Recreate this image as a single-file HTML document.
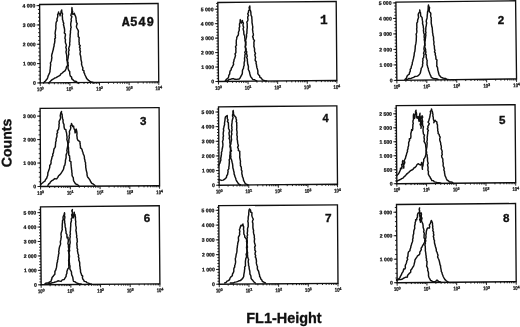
<!DOCTYPE html>
<html><head><meta charset="utf-8"><title>FL1-Height histograms</title>
<style>html,body{margin:0;padding:0;background:#fff;overflow:hidden}svg{display:block}</style></head>
<body>
<svg width="520" height="327" viewBox="0 0 520 327">
<rect width="520" height="327" fill="#fff"/>
<g transform="translate(39.6,4.5) rotate(-0.48)">
<rect x="0" y="0" width="118.5" height="78.4" fill="none" stroke="#101010" stroke-width="1.35"/>
<path d="M-3.1,1.10H0M-3.1,20.43H0M-3.1,39.75H0M-3.1,59.08H0M-3.1,78.40H0M-1.7,78.40H0M-1.7,74.54H0M-1.7,70.67H0M-1.7,66.81H0M-1.7,62.94H0M-1.7,59.08H0M-1.7,55.21H0M-1.7,51.35H0M-1.7,47.48H0M-1.7,43.62H0M-1.7,39.75H0M-1.7,35.89H0M-1.7,32.02H0M-1.7,28.16H0M-1.7,24.29H0M-1.7,20.42H0M-1.7,16.56H0M-1.7,12.69H0M-1.7,8.83H0M-1.7,4.96H0M-1.7,1.10H0M0.00,78.4v3.0M8.92,78.4v1.5M14.13,78.4v1.5M17.84,78.4v1.5M20.71,78.4v1.5M23.05,78.4v1.5M25.04,78.4v1.5M26.75,78.4v1.5M28.27,78.4v1.5M29.62,78.4v3.0M38.54,78.4v1.5M43.76,78.4v1.5M47.46,78.4v1.5M50.33,78.4v1.5M52.68,78.4v1.5M54.66,78.4v1.5M56.38,78.4v1.5M57.89,78.4v1.5M59.25,78.4v3.0M68.17,78.4v1.5M73.38,78.4v1.5M77.09,78.4v1.5M79.96,78.4v1.5M82.30,78.4v1.5M84.29,78.4v1.5M86.00,78.4v1.5M87.52,78.4v1.5M88.88,78.4v3.0M97.79,78.4v1.5M103.01,78.4v1.5M106.71,78.4v1.5M109.58,78.4v1.5M111.93,78.4v1.5M113.91,78.4v1.5M115.63,78.4v1.5M117.14,78.4v1.5M118.5,78.4v3.0" fill="none" stroke="#101010" stroke-width="0.9"/>
<g font-family='"Liberation Sans", sans-serif' font-size="5.1" font-weight="bold" fill="#101010" stroke="#101010" stroke-width="0.24">
<text x="-4.4" y="3.0" text-anchor="end">4 000</text>
<text x="-4.4" y="22.3" text-anchor="end">3 000</text>
<text x="-4.4" y="41.6" text-anchor="end">2 000</text>
<text x="-4.4" y="60.9" text-anchor="end">1 000</text>
<text x="-4.4" y="80.2" text-anchor="end">0</text>
<text x="-3.3" y="86.8" font-size="5.5" textLength="4.7" lengthAdjust="spacingAndGlyphs">10</text><text x="1.2" y="85.1" font-size="3.9">0</text>
<text x="26.3" y="86.8" font-size="5.5" textLength="4.7" lengthAdjust="spacingAndGlyphs">10</text><text x="30.8" y="85.1" font-size="3.9">1</text>
<text x="56.0" y="86.8" font-size="5.5" textLength="4.7" lengthAdjust="spacingAndGlyphs">10</text><text x="60.5" y="85.1" font-size="3.9">2</text>
<text x="85.6" y="86.8" font-size="5.5" textLength="4.7" lengthAdjust="spacingAndGlyphs">10</text><text x="90.1" y="85.1" font-size="3.9">3</text>
<text x="115.2" y="86.8" font-size="5.5" textLength="4.7" lengthAdjust="spacingAndGlyphs">10</text><text x="119.7" y="85.1" font-size="3.9">4</text>
</g>
</g>
<g transform="translate(217.8,2.5) rotate(-0.48)">
<rect x="0" y="0" width="118.4" height="79.0" fill="none" stroke="#101010" stroke-width="1.35"/>
<path d="M-3.1,6.70H0M-3.1,21.16H0M-3.1,35.62H0M-3.1,50.08H0M-3.1,64.54H0M-3.1,79.00H0M-1.7,79.00H0M-1.7,76.11H0M-1.7,73.22H0M-1.7,70.32H0M-1.7,67.43H0M-1.7,64.54H0M-1.7,61.65H0M-1.7,58.76H0M-1.7,55.86H0M-1.7,52.97H0M-1.7,50.08H0M-1.7,47.19H0M-1.7,44.30H0M-1.7,41.40H0M-1.7,38.51H0M-1.7,35.62H0M-1.7,32.73H0M-1.7,29.84H0M-1.7,26.94H0M-1.7,24.05H0M-1.7,21.16H0M-1.7,18.27H0M-1.7,15.38H0M-1.7,12.48H0M-1.7,9.59H0M-1.7,6.70H0M-1.7,3.81H0M-1.7,0.92H0M0.00,79.0v3.0M8.91,79.0v1.5M14.12,79.0v1.5M17.82,79.0v1.5M20.69,79.0v1.5M23.03,79.0v1.5M25.01,79.0v1.5M26.73,79.0v1.5M28.25,79.0v1.5M29.60,79.0v3.0M38.51,79.0v1.5M43.72,79.0v1.5M47.42,79.0v1.5M50.29,79.0v1.5M52.63,79.0v1.5M54.61,79.0v1.5M56.33,79.0v1.5M57.85,79.0v1.5M59.20,79.0v3.0M68.11,79.0v1.5M73.32,79.0v1.5M77.02,79.0v1.5M79.89,79.0v1.5M82.23,79.0v1.5M84.21,79.0v1.5M85.93,79.0v1.5M87.45,79.0v1.5M88.80,79.0v3.0M97.71,79.0v1.5M102.92,79.0v1.5M106.62,79.0v1.5M109.49,79.0v1.5M111.83,79.0v1.5M113.81,79.0v1.5M115.53,79.0v1.5M117.05,79.0v1.5M118.4,79.0v3.0" fill="none" stroke="#101010" stroke-width="0.9"/>
<g font-family='"Liberation Sans", sans-serif' font-size="5.1" font-weight="bold" fill="#101010" stroke="#101010" stroke-width="0.24">
<text x="-4.4" y="8.6" text-anchor="end">5 000</text>
<text x="-4.4" y="23.0" text-anchor="end">4 000</text>
<text x="-4.4" y="37.5" text-anchor="end">3 000</text>
<text x="-4.4" y="51.9" text-anchor="end">2 000</text>
<text x="-4.4" y="66.4" text-anchor="end">1 000</text>
<text x="-4.4" y="80.8" text-anchor="end">0</text>
<text x="-3.3" y="87.4" font-size="5.5" textLength="4.7" lengthAdjust="spacingAndGlyphs">10</text><text x="1.2" y="85.7" font-size="3.9">0</text>
<text x="26.3" y="87.4" font-size="5.5" textLength="4.7" lengthAdjust="spacingAndGlyphs">10</text><text x="30.8" y="85.7" font-size="3.9">1</text>
<text x="55.9" y="87.4" font-size="5.5" textLength="4.7" lengthAdjust="spacingAndGlyphs">10</text><text x="60.4" y="85.7" font-size="3.9">2</text>
<text x="85.5" y="87.4" font-size="5.5" textLength="4.7" lengthAdjust="spacingAndGlyphs">10</text><text x="90.0" y="85.7" font-size="3.9">3</text>
<text x="115.1" y="87.4" font-size="5.5" textLength="4.7" lengthAdjust="spacingAndGlyphs">10</text><text x="119.6" y="85.7" font-size="3.9">4</text>
</g>
</g>
<g transform="translate(395.9,2.2) rotate(-0.7)">
<rect x="0" y="0" width="119.7" height="78.2" fill="none" stroke="#101010" stroke-width="1.35"/>
<path d="M-3.1,0.70H0M-3.1,16.20H0M-3.1,31.70H0M-3.1,47.20H0M-3.1,62.70H0M-3.1,78.20H0M-1.7,78.20H0M-1.7,75.10H0M-1.7,72.00H0M-1.7,68.90H0M-1.7,65.80H0M-1.7,62.70H0M-1.7,59.60H0M-1.7,56.50H0M-1.7,53.40H0M-1.7,50.30H0M-1.7,47.20H0M-1.7,44.10H0M-1.7,41.00H0M-1.7,37.90H0M-1.7,34.80H0M-1.7,31.70H0M-1.7,28.60H0M-1.7,25.50H0M-1.7,22.40H0M-1.7,19.30H0M-1.7,16.20H0M-1.7,13.10H0M-1.7,10.00H0M-1.7,6.90H0M-1.7,3.80H0M-1.7,0.70H0M0.00,78.2v3.0M9.01,78.2v1.5M14.28,78.2v1.5M18.02,78.2v1.5M20.92,78.2v1.5M23.29,78.2v1.5M25.29,78.2v1.5M27.02,78.2v1.5M28.56,78.2v1.5M29.93,78.2v3.0M38.93,78.2v1.5M44.20,78.2v1.5M47.94,78.2v1.5M50.84,78.2v1.5M53.21,78.2v1.5M55.21,78.2v1.5M56.95,78.2v1.5M58.48,78.2v1.5M59.85,78.2v3.0M68.86,78.2v1.5M74.13,78.2v1.5M77.87,78.2v1.5M80.77,78.2v1.5M83.14,78.2v1.5M85.14,78.2v1.5M86.87,78.2v1.5M88.41,78.2v1.5M89.78,78.2v3.0M98.78,78.2v1.5M104.05,78.2v1.5M107.79,78.2v1.5M110.69,78.2v1.5M113.06,78.2v1.5M115.06,78.2v1.5M116.80,78.2v1.5M118.33,78.2v1.5M119.7,78.2v3.0" fill="none" stroke="#101010" stroke-width="0.9"/>
<g font-family='"Liberation Sans", sans-serif' font-size="5.1" font-weight="bold" fill="#101010" stroke="#101010" stroke-width="0.24">
<text x="-4.4" y="2.5" text-anchor="end">5 000</text>
<text x="-4.4" y="18.1" text-anchor="end">4 000</text>
<text x="-4.4" y="33.5" text-anchor="end">3 000</text>
<text x="-4.4" y="49.1" text-anchor="end">2 000</text>
<text x="-4.4" y="64.5" text-anchor="end">1 000</text>
<text x="-4.4" y="80.0" text-anchor="end">0</text>
<text x="-3.3" y="86.6" font-size="5.5" textLength="4.7" lengthAdjust="spacingAndGlyphs">10</text><text x="1.2" y="84.9" font-size="3.9">0</text>
<text x="26.6" y="86.6" font-size="5.5" textLength="4.7" lengthAdjust="spacingAndGlyphs">10</text><text x="31.1" y="84.9" font-size="3.9">1</text>
<text x="56.6" y="86.6" font-size="5.5" textLength="4.7" lengthAdjust="spacingAndGlyphs">10</text><text x="61.1" y="84.9" font-size="3.9">2</text>
<text x="86.5" y="86.6" font-size="5.5" textLength="4.7" lengthAdjust="spacingAndGlyphs">10</text><text x="91.0" y="84.9" font-size="3.9">3</text>
<text x="116.4" y="86.6" font-size="5.5" textLength="4.7" lengthAdjust="spacingAndGlyphs">10</text><text x="120.9" y="84.9" font-size="3.9">4</text>
</g>
</g>
<g transform="translate(40.1,108.3) rotate(-0.35)">
<rect x="0" y="0" width="119.0" height="78.2" fill="none" stroke="#101010" stroke-width="1.35"/>
<path d="M-3.1,7.80H0M-3.1,31.27H0M-3.1,54.73H0M-3.1,78.20H0M-1.7,78.20H0M-1.7,73.51H0M-1.7,68.81H0M-1.7,64.12H0M-1.7,59.43H0M-1.7,54.73H0M-1.7,50.04H0M-1.7,45.35H0M-1.7,40.65H0M-1.7,35.96H0M-1.7,31.27H0M-1.7,26.57H0M-1.7,21.88H0M-1.7,17.19H0M-1.7,12.49H0M-1.7,7.80H0M-1.7,3.11H0M0.00,78.2v3.0M8.96,78.2v1.5M14.19,78.2v1.5M17.91,78.2v1.5M20.79,78.2v1.5M23.15,78.2v1.5M25.14,78.2v1.5M26.87,78.2v1.5M28.39,78.2v1.5M29.75,78.2v3.0M38.71,78.2v1.5M43.94,78.2v1.5M47.66,78.2v1.5M50.54,78.2v1.5M52.90,78.2v1.5M54.89,78.2v1.5M56.62,78.2v1.5M58.14,78.2v1.5M59.50,78.2v3.0M68.46,78.2v1.5M73.69,78.2v1.5M77.41,78.2v1.5M80.29,78.2v1.5M82.65,78.2v1.5M84.64,78.2v1.5M86.37,78.2v1.5M87.89,78.2v1.5M89.25,78.2v3.0M98.21,78.2v1.5M103.44,78.2v1.5M107.16,78.2v1.5M110.04,78.2v1.5M112.40,78.2v1.5M114.39,78.2v1.5M116.12,78.2v1.5M117.64,78.2v1.5M119.0,78.2v3.0" fill="none" stroke="#101010" stroke-width="0.9"/>
<g font-family='"Liberation Sans", sans-serif' font-size="5.1" font-weight="bold" fill="#101010" stroke="#101010" stroke-width="0.24">
<text x="-4.4" y="9.7" text-anchor="end">3 000</text>
<text x="-4.4" y="33.1" text-anchor="end">2 000</text>
<text x="-4.4" y="56.6" text-anchor="end">1 000</text>
<text x="-4.4" y="80.0" text-anchor="end">0</text>
<text x="-3.3" y="86.6" font-size="5.5" textLength="4.7" lengthAdjust="spacingAndGlyphs">10</text><text x="1.2" y="84.9" font-size="3.9">0</text>
<text x="26.4" y="86.6" font-size="5.5" textLength="4.7" lengthAdjust="spacingAndGlyphs">10</text><text x="30.9" y="84.9" font-size="3.9">1</text>
<text x="56.2" y="86.6" font-size="5.5" textLength="4.7" lengthAdjust="spacingAndGlyphs">10</text><text x="60.7" y="84.9" font-size="3.9">2</text>
<text x="86.0" y="86.6" font-size="5.5" textLength="4.7" lengthAdjust="spacingAndGlyphs">10</text><text x="90.5" y="84.9" font-size="3.9">3</text>
<text x="115.7" y="86.6" font-size="5.5" textLength="4.7" lengthAdjust="spacingAndGlyphs">10</text><text x="120.2" y="84.9" font-size="3.9">4</text>
</g>
</g>
<g transform="translate(218.5,106.8) rotate(-0.48)">
<rect x="0" y="0" width="118.35" height="78.4" fill="none" stroke="#101010" stroke-width="1.35"/>
<path d="M-3.1,5.20H0M-3.1,19.84H0M-3.1,34.48H0M-3.1,49.12H0M-3.1,63.76H0M-3.1,78.40H0M-1.7,78.40H0M-1.7,75.47H0M-1.7,72.54H0M-1.7,69.62H0M-1.7,66.69H0M-1.7,63.76H0M-1.7,60.83H0M-1.7,57.90H0M-1.7,54.98H0M-1.7,52.05H0M-1.7,49.12H0M-1.7,46.19H0M-1.7,43.26H0M-1.7,40.34H0M-1.7,37.41H0M-1.7,34.48H0M-1.7,31.55H0M-1.7,28.62H0M-1.7,25.70H0M-1.7,22.77H0M-1.7,19.84H0M-1.7,16.91H0M-1.7,13.98H0M-1.7,11.06H0M-1.7,8.13H0M-1.7,5.20H0M-1.7,2.27H0M0.00,78.4v3.0M8.91,78.4v1.5M14.12,78.4v1.5M17.81,78.4v1.5M20.68,78.4v1.5M23.02,78.4v1.5M25.00,78.4v1.5M26.72,78.4v1.5M28.23,78.4v1.5M29.59,78.4v3.0M38.49,78.4v1.5M43.70,78.4v1.5M47.40,78.4v1.5M50.27,78.4v1.5M52.61,78.4v1.5M54.59,78.4v1.5M56.31,78.4v1.5M57.82,78.4v1.5M59.17,78.4v3.0M68.08,78.4v1.5M73.29,78.4v1.5M76.99,78.4v1.5M79.86,78.4v1.5M82.20,78.4v1.5M84.18,78.4v1.5M85.90,78.4v1.5M87.41,78.4v1.5M88.76,78.4v3.0M97.67,78.4v1.5M102.88,78.4v1.5M106.58,78.4v1.5M109.44,78.4v1.5M111.79,78.4v1.5M113.77,78.4v1.5M115.48,78.4v1.5M117.00,78.4v1.5M118.35,78.4v3.0" fill="none" stroke="#101010" stroke-width="0.9"/>
<g font-family='"Liberation Sans", sans-serif' font-size="5.1" font-weight="bold" fill="#101010" stroke="#101010" stroke-width="0.24">
<text x="-4.4" y="7.1" text-anchor="end">5 000</text>
<text x="-4.4" y="21.7" text-anchor="end">4 000</text>
<text x="-4.4" y="36.3" text-anchor="end">3 000</text>
<text x="-4.4" y="51.0" text-anchor="end">2 000</text>
<text x="-4.4" y="65.6" text-anchor="end">1 000</text>
<text x="-4.4" y="80.2" text-anchor="end">0</text>
<text x="-3.3" y="86.8" font-size="5.5" textLength="4.7" lengthAdjust="spacingAndGlyphs">10</text><text x="1.2" y="85.1" font-size="3.9">0</text>
<text x="26.3" y="86.8" font-size="5.5" textLength="4.7" lengthAdjust="spacingAndGlyphs">10</text><text x="30.8" y="85.1" font-size="3.9">1</text>
<text x="55.9" y="86.8" font-size="5.5" textLength="4.7" lengthAdjust="spacingAndGlyphs">10</text><text x="60.4" y="85.1" font-size="3.9">2</text>
<text x="85.5" y="86.8" font-size="5.5" textLength="4.7" lengthAdjust="spacingAndGlyphs">10</text><text x="90.0" y="85.1" font-size="3.9">3</text>
<text x="115.0" y="86.8" font-size="5.5" textLength="4.7" lengthAdjust="spacingAndGlyphs">10</text><text x="119.5" y="85.1" font-size="3.9">4</text>
</g>
</g>
<g transform="translate(396.2,105.7) rotate(-0.48)">
<rect x="0" y="0" width="118.85" height="78.0" fill="none" stroke="#101010" stroke-width="1.35"/>
<path d="M-3.1,8.10H0M-3.1,22.08H0M-3.1,36.06H0M-3.1,50.04H0M-3.1,64.02H0M-3.1,78.00H0M-1.7,78.00H0M-1.7,75.20H0M-1.7,72.41H0M-1.7,69.61H0M-1.7,66.82H0M-1.7,64.02H0M-1.7,61.22H0M-1.7,58.43H0M-1.7,55.63H0M-1.7,52.84H0M-1.7,50.04H0M-1.7,47.24H0M-1.7,44.45H0M-1.7,41.65H0M-1.7,38.86H0M-1.7,36.06H0M-1.7,33.26H0M-1.7,30.47H0M-1.7,27.67H0M-1.7,24.88H0M-1.7,22.08H0M-1.7,19.28H0M-1.7,16.49H0M-1.7,13.69H0M-1.7,10.90H0M-1.7,8.10H0M-1.7,5.30H0M-1.7,2.51H0M0.00,78.0v3.0M8.94,78.0v1.5M14.18,78.0v1.5M17.89,78.0v1.5M20.77,78.0v1.5M23.12,78.0v1.5M25.11,78.0v1.5M26.83,78.0v1.5M28.35,78.0v1.5M29.71,78.0v3.0M38.66,78.0v1.5M43.89,78.0v1.5M47.60,78.0v1.5M50.48,78.0v1.5M52.83,78.0v1.5M54.82,78.0v1.5M56.55,78.0v1.5M58.07,78.0v1.5M59.42,78.0v3.0M68.37,78.0v1.5M73.60,78.0v1.5M77.31,78.0v1.5M80.19,78.0v1.5M82.55,78.0v1.5M84.53,78.0v1.5M86.26,78.0v1.5M87.78,78.0v1.5M89.14,78.0v3.0M98.08,78.0v1.5M103.31,78.0v1.5M107.03,78.0v1.5M109.91,78.0v1.5M112.26,78.0v1.5M114.25,78.0v1.5M115.97,78.0v1.5M117.49,78.0v1.5M118.85,78.0v3.0" fill="none" stroke="#101010" stroke-width="0.9"/>
<g font-family='"Liberation Sans", sans-serif' font-size="5.1" font-weight="bold" fill="#101010" stroke="#101010" stroke-width="0.24">
<text x="-4.4" y="9.9" text-anchor="end">2 500</text>
<text x="-4.4" y="23.9" text-anchor="end">2 000</text>
<text x="-4.4" y="37.9" text-anchor="end">1 500</text>
<text x="-4.4" y="51.9" text-anchor="end">1 000</text>
<text x="-4.4" y="65.9" text-anchor="end">500</text>
<text x="-4.4" y="79.8" text-anchor="end">0</text>
<text x="-3.3" y="86.4" font-size="5.5" textLength="4.7" lengthAdjust="spacingAndGlyphs">10</text><text x="1.2" y="84.7" font-size="3.9">0</text>
<text x="26.4" y="86.4" font-size="5.5" textLength="4.7" lengthAdjust="spacingAndGlyphs">10</text><text x="30.9" y="84.7" font-size="3.9">1</text>
<text x="56.1" y="86.4" font-size="5.5" textLength="4.7" lengthAdjust="spacingAndGlyphs">10</text><text x="60.6" y="84.7" font-size="3.9">2</text>
<text x="85.8" y="86.4" font-size="5.5" textLength="4.7" lengthAdjust="spacingAndGlyphs">10</text><text x="90.3" y="84.7" font-size="3.9">3</text>
<text x="115.5" y="86.4" font-size="5.5" textLength="4.7" lengthAdjust="spacingAndGlyphs">10</text><text x="120.0" y="84.7" font-size="3.9">4</text>
</g>
</g>
<g transform="translate(40.5,206.8) rotate(-0.48)">
<rect x="0" y="0" width="118.75" height="78.0" fill="none" stroke="#101010" stroke-width="1.35"/>
<path d="M-3.1,5.80H0M-3.1,20.24H0M-3.1,34.68H0M-3.1,49.12H0M-3.1,63.56H0M-3.1,78.00H0M-1.7,78.00H0M-1.7,75.11H0M-1.7,72.22H0M-1.7,69.34H0M-1.7,66.45H0M-1.7,63.56H0M-1.7,60.67H0M-1.7,57.78H0M-1.7,54.90H0M-1.7,52.01H0M-1.7,49.12H0M-1.7,46.23H0M-1.7,43.34H0M-1.7,40.46H0M-1.7,37.57H0M-1.7,34.68H0M-1.7,31.79H0M-1.7,28.90H0M-1.7,26.02H0M-1.7,23.13H0M-1.7,20.24H0M-1.7,17.35H0M-1.7,14.46H0M-1.7,11.58H0M-1.7,8.69H0M-1.7,5.80H0M-1.7,2.91H0M0.00,78.0v3.0M8.94,78.0v1.5M14.16,78.0v1.5M17.87,78.0v1.5M20.75,78.0v1.5M23.10,78.0v1.5M25.09,78.0v1.5M26.81,78.0v1.5M28.33,78.0v1.5M29.69,78.0v3.0M38.62,78.0v1.5M43.85,78.0v1.5M47.56,78.0v1.5M50.44,78.0v1.5M52.79,78.0v1.5M54.78,78.0v1.5M56.50,78.0v1.5M58.02,78.0v1.5M59.38,78.0v3.0M68.31,78.0v1.5M73.54,78.0v1.5M77.25,78.0v1.5M80.13,78.0v1.5M82.48,78.0v1.5M84.46,78.0v1.5M86.19,78.0v1.5M87.70,78.0v1.5M89.06,78.0v3.0M98.00,78.0v1.5M103.23,78.0v1.5M106.94,78.0v1.5M109.81,78.0v1.5M112.16,78.0v1.5M114.15,78.0v1.5M115.87,78.0v1.5M117.39,78.0v1.5M118.75,78.0v3.0" fill="none" stroke="#101010" stroke-width="0.9"/>
<g font-family='"Liberation Sans", sans-serif' font-size="5.1" font-weight="bold" fill="#101010" stroke="#101010" stroke-width="0.24">
<text x="-4.4" y="7.7" text-anchor="end">5 000</text>
<text x="-4.4" y="22.1" text-anchor="end">4 000</text>
<text x="-4.4" y="36.5" text-anchor="end">3 000</text>
<text x="-4.4" y="51.0" text-anchor="end">2 000</text>
<text x="-4.4" y="65.4" text-anchor="end">1 000</text>
<text x="-4.4" y="79.8" text-anchor="end">0</text>
<text x="-3.3" y="86.4" font-size="5.5" textLength="4.7" lengthAdjust="spacingAndGlyphs">10</text><text x="1.2" y="84.7" font-size="3.9">0</text>
<text x="26.4" y="86.4" font-size="5.5" textLength="4.7" lengthAdjust="spacingAndGlyphs">10</text><text x="30.9" y="84.7" font-size="3.9">1</text>
<text x="56.1" y="86.4" font-size="5.5" textLength="4.7" lengthAdjust="spacingAndGlyphs">10</text><text x="60.6" y="84.7" font-size="3.9">2</text>
<text x="85.8" y="86.4" font-size="5.5" textLength="4.7" lengthAdjust="spacingAndGlyphs">10</text><text x="90.3" y="84.7" font-size="3.9">3</text>
<text x="115.5" y="86.4" font-size="5.5" textLength="4.7" lengthAdjust="spacingAndGlyphs">10</text><text x="120.0" y="84.7" font-size="3.9">4</text>
</g>
</g>
<g transform="translate(218.7,205.7) rotate(-0.4)">
<rect x="0" y="0" width="118.75" height="78.5" fill="none" stroke="#101010" stroke-width="1.35"/>
<path d="M-3.1,4.60H0M-3.1,19.38H0M-3.1,34.16H0M-3.1,48.94H0M-3.1,63.72H0M-3.1,78.50H0M-1.7,78.50H0M-1.7,75.54H0M-1.7,72.59H0M-1.7,69.63H0M-1.7,66.68H0M-1.7,63.72H0M-1.7,60.76H0M-1.7,57.81H0M-1.7,54.85H0M-1.7,51.90H0M-1.7,48.94H0M-1.7,45.98H0M-1.7,43.03H0M-1.7,40.07H0M-1.7,37.12H0M-1.7,34.16H0M-1.7,31.20H0M-1.7,28.25H0M-1.7,25.29H0M-1.7,22.34H0M-1.7,19.38H0M-1.7,16.42H0M-1.7,13.47H0M-1.7,10.51H0M-1.7,7.56H0M-1.7,4.60H0M-1.7,1.64H0M0.00,78.5v3.0M8.94,78.5v1.5M14.16,78.5v1.5M17.87,78.5v1.5M20.75,78.5v1.5M23.10,78.5v1.5M25.09,78.5v1.5M26.81,78.5v1.5M28.33,78.5v1.5M29.69,78.5v3.0M38.62,78.5v1.5M43.85,78.5v1.5M47.56,78.5v1.5M50.44,78.5v1.5M52.79,78.5v1.5M54.78,78.5v1.5M56.50,78.5v1.5M58.02,78.5v1.5M59.38,78.5v3.0M68.31,78.5v1.5M73.54,78.5v1.5M77.25,78.5v1.5M80.13,78.5v1.5M82.48,78.5v1.5M84.46,78.5v1.5M86.19,78.5v1.5M87.70,78.5v1.5M89.06,78.5v3.0M98.00,78.5v1.5M103.23,78.5v1.5M106.94,78.5v1.5M109.81,78.5v1.5M112.16,78.5v1.5M114.15,78.5v1.5M115.87,78.5v1.5M117.39,78.5v1.5M118.75,78.5v3.0" fill="none" stroke="#101010" stroke-width="0.9"/>
<g font-family='"Liberation Sans", sans-serif' font-size="5.1" font-weight="bold" fill="#101010" stroke="#101010" stroke-width="0.24">
<text x="-4.4" y="6.4" text-anchor="end">5 000</text>
<text x="-4.4" y="21.2" text-anchor="end">4 000</text>
<text x="-4.4" y="36.0" text-anchor="end">3 000</text>
<text x="-4.4" y="50.8" text-anchor="end">2 000</text>
<text x="-4.4" y="65.6" text-anchor="end">1 000</text>
<text x="-4.4" y="80.3" text-anchor="end">0</text>
<text x="-3.3" y="86.9" font-size="5.5" textLength="4.7" lengthAdjust="spacingAndGlyphs">10</text><text x="1.2" y="85.2" font-size="3.9">0</text>
<text x="26.4" y="86.9" font-size="5.5" textLength="4.7" lengthAdjust="spacingAndGlyphs">10</text><text x="30.9" y="85.2" font-size="3.9">1</text>
<text x="56.1" y="86.9" font-size="5.5" textLength="4.7" lengthAdjust="spacingAndGlyphs">10</text><text x="60.6" y="85.2" font-size="3.9">2</text>
<text x="85.8" y="86.9" font-size="5.5" textLength="4.7" lengthAdjust="spacingAndGlyphs">10</text><text x="90.3" y="85.2" font-size="3.9">3</text>
<text x="115.5" y="86.9" font-size="5.5" textLength="4.7" lengthAdjust="spacingAndGlyphs">10</text><text x="120.0" y="85.2" font-size="3.9">4</text>
</g>
</g>
<g transform="translate(396.5,204.5) rotate(-0.48)">
<rect x="0" y="0" width="119.05" height="78.2" fill="none" stroke="#101010" stroke-width="1.35"/>
<path d="M-3.1,7.70H0M-3.1,31.20H0M-3.1,54.70H0M-3.1,78.20H0M-1.7,78.20H0M-1.7,73.50H0M-1.7,68.80H0M-1.7,64.10H0M-1.7,59.40H0M-1.7,54.70H0M-1.7,50.00H0M-1.7,45.30H0M-1.7,40.60H0M-1.7,35.90H0M-1.7,31.20H0M-1.7,26.50H0M-1.7,21.80H0M-1.7,17.10H0M-1.7,12.40H0M-1.7,7.70H0M-1.7,3.00H0M0.00,78.2v3.0M8.96,78.2v1.5M14.20,78.2v1.5M17.92,78.2v1.5M20.80,78.2v1.5M23.16,78.2v1.5M25.15,78.2v1.5M26.88,78.2v1.5M28.40,78.2v1.5M29.76,78.2v3.0M38.72,78.2v1.5M43.96,78.2v1.5M47.68,78.2v1.5M50.57,78.2v1.5M52.92,78.2v1.5M54.91,78.2v1.5M56.64,78.2v1.5M58.16,78.2v1.5M59.52,78.2v3.0M68.48,78.2v1.5M73.73,78.2v1.5M77.44,78.2v1.5M80.33,78.2v1.5M82.68,78.2v1.5M84.68,78.2v1.5M86.40,78.2v1.5M87.93,78.2v1.5M89.29,78.2v3.0M98.25,78.2v1.5M103.49,78.2v1.5M107.21,78.2v1.5M110.09,78.2v1.5M112.45,78.2v1.5M114.44,78.2v1.5M116.17,78.2v1.5M117.69,78.2v1.5M119.05,78.2v3.0" fill="none" stroke="#101010" stroke-width="0.9"/>
<g font-family='"Liberation Sans", sans-serif' font-size="5.1" font-weight="bold" fill="#101010" stroke="#101010" stroke-width="0.24">
<text x="-4.4" y="9.6" text-anchor="end">3 000</text>
<text x="-4.4" y="33.0" text-anchor="end">2 000</text>
<text x="-4.4" y="56.6" text-anchor="end">1 000</text>
<text x="-4.4" y="80.0" text-anchor="end">0</text>
<text x="-3.3" y="86.6" font-size="5.5" textLength="4.7" lengthAdjust="spacingAndGlyphs">10</text><text x="1.2" y="84.9" font-size="3.9">0</text>
<text x="26.5" y="86.6" font-size="5.5" textLength="4.7" lengthAdjust="spacingAndGlyphs">10</text><text x="31.0" y="84.9" font-size="3.9">1</text>
<text x="56.2" y="86.6" font-size="5.5" textLength="4.7" lengthAdjust="spacingAndGlyphs">10</text><text x="60.7" y="84.9" font-size="3.9">2</text>
<text x="86.0" y="86.6" font-size="5.5" textLength="4.7" lengthAdjust="spacingAndGlyphs">10</text><text x="90.5" y="84.9" font-size="3.9">3</text>
<text x="115.8" y="86.6" font-size="5.5" textLength="4.7" lengthAdjust="spacingAndGlyphs">10</text><text x="120.2" y="84.9" font-size="3.9">4</text>
</g>
</g>
<g fill="none" stroke="#101010" stroke-width="1.45" stroke-linejoin="round" stroke-linecap="round">
<path d="M43.5,83.0 L44.4,81.9 L45.5,81.0 L46.3,79.8 L47.3,78.8 L47.8,77.3 L48.2,75.8 L48.9,74.4 L49.5,73.0 L50.0,71.6 L50.0,70.2 L50.3,68.8 L50.3,67.4 L50.5,66.0 L50.7,64.6 L50.4,63.1 L51.0,61.8 L51.5,60.4 L51.6,59.0 L51.9,57.6 L51.6,56.1 L51.8,54.7 L52.3,53.3 L52.6,51.9 L53.0,50.5 L53.4,49.0 L53.6,47.5 L54.1,46.0 L54.1,44.5 L54.6,43.0 L54.8,41.7 L54.9,40.4 L54.7,39.0 L55.5,37.8 L55.2,36.4 L55.5,35.1 L55.1,33.8 L55.2,32.5 L55.4,31.2 L55.6,29.9 L55.9,28.6 L55.9,27.2 L55.8,25.9 L56.0,24.6 L56.0,23.1 L56.4,21.8 L57.2,20.5 L56.9,19.0 L57.5,17.6 L57.8,16.2 L57.6,14.7 L58.3,13.4 L58.6,12.0 L58.7,13.4 L60.0,14.3 L60.0,15.8 L60.3,14.3 L60.8,12.9 L61.1,11.4 L61.7,10.0 L61.7,11.4 L62.1,12.7 L62.6,14.0 L62.2,15.4 L62.4,16.8 L62.5,18.1 L62.5,19.5 L63.0,20.8 L63.2,22.1 L63.8,23.4 L63.4,24.8 L63.9,26.1 L64.1,27.5 L64.5,28.8 L64.6,30.1 L64.6,31.5 L64.3,32.9 L65.4,34.1 L65.4,35.5 L65.1,36.9 L64.9,38.3 L65.5,39.6 L65.3,41.3 L65.5,43.0 L66.1,44.3 L66.4,45.7 L65.8,47.2 L66.2,48.5 L66.5,49.9 L66.0,51.4 L66.1,52.8 L66.5,54.1 L66.7,55.5 L66.8,56.9 L66.9,58.3 L66.8,59.8 L67.2,61.2 L67.4,62.6 L67.5,64.0 L68.3,65.3 L68.0,66.8 L68.0,68.2 L68.4,69.4 L68.8,70.6 L69.8,71.7 L69.7,73.1 L69.9,74.4 L70.3,76.0 L71.6,77.1 L71.8,78.8 L72.9,79.6 L73.7,80.7 L74.9,81.3 L76.3,81.5 L77.3,82.8 L78.7,83.0"/>
<path d="M48.5,83.0 L49.9,81.9 L51.0,80.6 L52.2,79.7 L53.6,78.9 L54.8,78.0 L56.1,77.6 L57.3,76.8 L58.6,76.2 L60.0,75.4 L60.9,73.9 L62.3,73.0 L63.3,71.9 L64.6,71.2 L65.5,70.0 L66.1,68.5 L66.5,67.0 L67.4,65.6 L67.8,64.2 L68.1,62.8 L67.7,61.4 L67.6,60.0 L68.0,58.6 L68.2,57.2 L68.3,55.8 L68.8,54.4 L68.6,53.0 L68.5,51.5 L69.2,50.2 L68.7,48.7 L69.0,47.3 L69.5,45.9 L69.8,44.5 L69.6,43.0 L69.9,41.7 L69.9,40.4 L69.9,39.1 L70.0,37.8 L70.2,36.5 L70.1,35.1 L70.3,33.8 L70.5,32.5 L70.4,31.2 L70.7,29.9 L70.7,28.6 L71.2,27.3 L70.8,26.0 L70.7,24.6 L70.8,23.3 L71.0,22.0 L71.4,20.7 L71.1,19.4 L71.4,18.1 L71.9,16.8 L70.8,15.4 L71.3,14.1 L71.7,12.8 L71.8,11.5 L71.9,10.2 L71.8,8.9 L72.0,7.6 L72.0,9.0 L72.3,10.4 L72.7,11.7 L72.2,13.2 L73.0,14.5 L74.3,13.3 L74.8,14.9 L75.6,16.4 L76.0,18.0 L76.1,19.4 L76.3,20.9 L76.4,22.3 L77.2,23.7 L76.7,25.1 L76.4,26.6 L76.8,28.0 L78.0,30.0 L78.4,31.3 L78.3,32.6 L78.1,33.9 L78.3,35.2 L78.2,36.5 L79.2,37.8 L79.0,39.1 L79.1,40.4 L79.0,41.7 L79.3,43.0 L79.1,44.4 L80.3,45.7 L79.4,47.2 L80.2,48.5 L79.8,50.0 L80.5,51.3 L80.2,52.7 L80.0,54.1 L80.5,55.5 L80.8,56.9 L80.9,58.3 L81.0,59.8 L81.4,61.2 L81.7,62.6 L81.5,64.0 L81.9,65.4 L82.4,66.8 L82.9,68.1 L82.6,69.8 L84.0,70.8 L83.9,72.3 L84.6,73.6 L85.0,75.0 L85.8,76.5 L86.4,78.0 L87.4,79.4 L88.7,80.4 L90.0,81.3 L91.2,82.0 L92.6,82.1 L93.7,83.0"/>
<path d="M225.3,81.0 L226.3,79.4 L227.8,78.4 L228.6,77.0 L228.8,75.4 L229.7,74.0 L229.8,72.5 L230.1,71.0 L231.2,69.8 L231.3,68.3 L232.2,67.2 L232.8,65.8 L233.6,64.4 L233.3,62.7 L233.9,61.3 L234.0,59.7 L234.7,58.3 L235.1,56.9 L235.5,55.5 L235.0,54.0 L235.9,52.6 L235.9,51.2 L235.8,49.7 L236.0,48.3 L235.5,46.7 L236.5,45.2 L236.2,43.6 L236.3,42.0 L236.3,40.4 L236.7,38.9 L236.8,37.4 L237.5,36.2 L238.3,35.0 L238.5,33.6 L238.4,32.2 L239.1,30.8 L239.3,29.4 L239.1,28.0 L239.7,26.7 L239.5,25.2 L239.5,23.8 L240.2,22.4 L240.1,21.0 L240.3,19.6 L240.8,21.3 L241.4,23.0 L242.3,21.8 L242.4,20.4 L242.6,21.8 L243.4,23.1 L243.0,24.6 L243.1,26.0 L243.7,27.3 L243.1,28.8 L243.4,30.1 L243.8,31.5 L243.8,32.8 L243.9,34.2 L244.7,36.0 L244.7,37.5 L245.0,39.0 L244.9,40.5 L245.4,42.0 L245.5,43.4 L245.4,44.8 L245.4,46.3 L245.5,47.7 L246.2,49.0 L245.9,50.5 L246.8,51.8 L246.4,53.3 L246.9,54.7 L247.3,56.1 L246.6,57.6 L247.4,59.0 L247.3,60.4 L247.5,61.9 L247.6,63.3 L247.9,64.8 L248.4,66.3 L248.4,67.9 L248.3,69.5 L249.1,70.9 L249.6,72.5 L249.9,74.0 L250.3,75.6 L251.0,77.1 L252.0,78.3 L252.9,79.6 L254.3,79.7 L255.5,80.4 L256.7,81.0"/>
<path d="M226.5,81.0 L227.9,80.7 L228.9,79.5 L230.3,79.4 L231.8,78.8 L233.4,78.6 L234.9,79.3 L236.6,79.4 L239.1,79.0 L240.1,77.9 L240.8,76.5 L241.6,75.2 L242.2,73.9 L242.4,72.5 L242.4,71.0 L242.7,69.6 L243.5,68.3 L243.6,66.8 L244.2,65.3 L244.1,63.8 L244.2,62.3 L244.7,60.8 L244.6,59.4 L244.5,57.9 L245.0,56.6 L244.8,55.1 L245.4,53.7 L244.7,52.3 L245.6,50.9 L245.6,49.5 L245.5,48.0 L245.2,46.5 L246.0,45.0 L245.8,43.5 L246.0,42.0 L245.5,40.4 L246.0,38.9 L246.4,37.4 L246.6,36.0 L246.4,34.6 L246.9,33.3 L246.9,31.9 L247.0,30.5 L247.0,29.1 L247.3,27.8 L247.2,26.4 L247.2,25.0 L247.2,23.6 L246.8,22.1 L247.7,20.8 L248.0,19.4 L247.7,18.0 L247.8,16.6 L248.6,15.3 L247.7,13.8 L248.5,12.4 L248.5,11.0 L249.6,9.5 L249.1,7.6 L249.8,6.0 L249.9,7.7 L249.8,9.4 L250.6,11.0 L250.9,12.5 L250.9,14.0 L251.1,15.4 L251.8,16.8 L251.8,18.3 L252.0,19.8 L252.0,21.2 L252.0,22.6 L252.3,24.0 L252.5,25.4 L252.8,26.8 L252.7,28.2 L252.5,29.6 L252.8,31.0 L252.9,32.4 L253.3,33.7 L253.4,35.1 L252.6,36.6 L253.2,37.9 L253.4,39.3 L254.5,40.6 L253.9,42.0 L253.9,43.4 L254.0,44.9 L253.8,46.3 L254.3,47.7 L254.6,49.1 L254.5,50.6 L254.8,52.0 L255.5,53.4 L254.8,54.9 L255.2,56.2 L255.6,57.6 L255.2,59.1 L255.2,60.5 L256.2,61.8 L256.0,63.3 L256.5,64.7 L256.6,66.2 L256.9,67.7 L257.4,69.1 L257.8,70.6 L257.9,72.1 L257.8,73.6 L258.6,74.7 L259.6,75.7 L259.8,77.1 L261.3,78.1 L262.3,79.6 L263.6,80.5 L265.2,80.8 L266.7,81.0"/>
<path d="M404.9,79.5 L406.2,78.4 L406.8,76.9 L407.4,75.5 L409.3,74.2 L409.5,72.6 L410.3,71.1 L410.2,69.4 L411.2,68.0 L411.3,66.6 L411.8,65.3 L412.3,63.9 L412.3,62.5 L412.8,61.2 L413.1,59.8 L413.5,58.4 L413.7,57.0 L414.1,55.5 L414.2,54.1 L414.4,52.6 L414.9,51.3 L415.0,49.8 L415.2,48.3 L415.2,46.8 L415.4,45.4 L415.8,43.9 L416.0,42.5 L416.2,41.0 L416.3,39.7 L416.3,38.3 L416.4,37.0 L416.4,35.7 L416.1,34.3 L416.6,33.0 L416.9,31.7 L416.8,30.3 L416.6,29.0 L416.9,27.6 L416.8,26.3 L416.8,24.8 L416.8,23.2 L417.6,21.8 L417.6,20.3 L418.1,18.8 L418.6,17.4 L418.3,15.8 L418.2,14.3 L418.9,12.9 L419.9,11.5 L419.7,10.0 L420.0,11.4 L420.5,12.8 L420.6,14.2 L420.6,15.7 L422.1,17.6 L422.2,19.0 L422.4,20.4 L422.7,21.8 L422.5,23.3 L422.9,24.7 L423.3,26.1 L423.3,27.5 L423.7,28.9 L423.4,30.3 L423.6,31.6 L423.7,33.0 L424.4,34.3 L424.2,35.6 L424.1,37.0 L424.5,38.3 L424.2,39.7 L424.6,41.0 L424.6,42.4 L424.7,43.9 L425.1,45.2 L424.6,46.7 L425.1,48.1 L425.6,49.5 L425.7,50.9 L425.9,52.3 L425.4,53.8 L426.3,55.0 L426.1,56.4 L426.3,57.8 L426.7,59.2 L427.2,60.5 L427.0,61.9 L427.1,63.3 L427.0,64.7 L427.5,66.0 L427.7,67.3 L428.3,68.6 L428.4,69.9 L428.9,71.2 L429.4,72.4 L429.8,73.7 L430.3,74.9 L430.9,76.1 L431.3,77.4 L432.8,78.2 L434.4,78.6 L435.7,78.6 L437.0,79.0 L438.2,79.5"/>
<path d="M406.2,79.5 L407.7,79.2 L409.1,78.5 L410.6,78.6 L412.1,77.9 L413.7,77.4 L414.8,76.5 L416.2,76.4 L417.5,76.1 L418.9,75.0 L420.0,73.6 L420.5,72.4 L420.7,71.1 L421.1,69.8 L421.2,68.4 L421.9,67.3 L422.6,66.0 L422.5,64.5 L422.9,63.1 L422.6,61.6 L423.0,60.2 L422.8,58.7 L423.7,57.4 L423.7,56.0 L424.1,54.6 L423.5,53.2 L424.1,51.8 L424.4,50.5 L423.9,49.0 L424.1,47.6 L424.4,46.2 L424.7,44.9 L425.0,43.5 L424.7,42.1 L425.2,40.8 L425.3,39.4 L425.5,38.0 L425.6,36.7 L425.9,35.3 L425.6,33.9 L426.0,32.6 L425.5,31.1 L425.8,29.8 L425.8,28.4 L425.9,27.0 L426.3,25.7 L426.4,24.3 L426.7,22.9 L426.2,21.5 L426.4,20.1 L426.9,18.8 L427.1,17.4 L427.2,16.0 L427.3,14.7 L427.5,13.3 L427.5,11.9 L428.0,10.5 L428.1,9.2 L428.2,7.8 L428.2,6.4 L428.5,5.0 L428.7,6.4 L429.6,7.7 L429.3,9.1 L429.2,10.5 L429.4,11.9 L430.4,12.5 L430.9,13.9 L430.6,15.3 L430.8,16.7 L431.3,18.0 L431.1,19.4 L431.3,20.8 L431.2,22.2 L431.3,23.6 L431.6,25.0 L431.8,26.5 L432.3,27.9 L432.3,29.4 L432.5,30.9 L432.5,32.4 L432.9,33.9 L432.9,35.3 L433.4,36.6 L433.6,38.0 L433.5,39.4 L433.7,40.7 L434.0,42.1 L433.8,43.5 L434.0,44.9 L434.4,46.3 L434.4,47.7 L434.5,49.1 L435.0,50.4 L434.4,51.9 L435.4,53.2 L435.2,54.7 L435.7,56.0 L435.9,57.4 L435.9,58.9 L437.0,60.1 L436.8,61.6 L436.8,63.1 L436.9,64.5 L436.7,66.0 L437.5,67.3 L437.7,68.7 L437.8,70.1 L438.2,71.4 L438.5,72.8 L438.9,74.2 L439.4,75.5 L440.4,76.4 L441.3,77.4 L442.8,78.0 L444.4,78.4 L445.7,78.5 L446.8,79.4 L448.2,79.5"/>
<path d="M40.4,185.0 L41.2,183.8 L42.5,183.0 L43.5,182.0 L45.0,181.1 L45.6,179.4 L46.7,178.2 L47.1,176.8 L47.7,175.5 L47.8,174.1 L47.9,172.6 L48.5,171.3 L48.9,169.9 L49.4,168.5 L49.8,167.1 L49.7,165.5 L50.7,164.3 L51.1,162.8 L51.0,161.3 L51.4,159.9 L51.8,158.5 L52.0,157.0 L52.9,155.7 L52.7,154.1 L53.4,152.8 L53.6,151.3 L53.8,150.0 L54.1,148.7 L54.9,147.6 L55.4,146.4 L55.4,145.0 L55.6,143.6 L55.6,142.2 L56.2,140.8 L56.1,139.4 L56.4,138.0 L56.9,136.7 L57.0,135.2 L56.8,133.8 L57.7,132.5 L57.3,131.0 L58.6,129.1 L58.8,127.6 L59.1,126.2 L58.9,124.7 L59.3,123.2 L59.0,121.7 L59.6,120.3 L60.4,118.9 L60.6,117.4 L60.2,115.8 L60.5,114.3 L60.8,112.9 L61.5,111.5 L61.4,113.0 L62.1,114.4 L62.2,115.8 L62.4,117.3 L62.6,118.7 L63.1,120.1 L63.0,121.6 L63.3,123.1 L64.0,124.5 L64.0,126.1 L64.2,127.6 L64.6,129.1 L65.9,129.7 L66.0,131.1 L66.4,132.4 L66.7,133.8 L66.7,135.2 L67.0,136.5 L67.1,137.9 L66.8,139.3 L67.2,140.6 L67.6,141.9 L67.8,143.3 L68.0,144.6 L68.0,146.0 L68.5,147.4 L68.5,148.9 L68.5,150.3 L68.7,151.8 L68.8,153.2 L68.6,154.7 L69.6,156.0 L69.6,157.5 L69.9,159.0 L69.5,160.6 L71.0,161.9 L70.9,163.5 L71.1,165.0 L71.2,166.4 L71.4,167.9 L71.5,169.3 L71.8,170.7 L71.8,172.1 L72.1,173.6 L72.0,175.0 L72.4,176.4 L73.3,177.7 L73.4,179.3 L73.6,180.8 L74.6,182.3 L75.5,183.9 L77.2,184.5 L78.7,185.5"/>
<path d="M47.9,185.5 L48.5,184.2 L49.7,183.3 L50.4,182.0 L51.5,180.9 L52.9,180.1 L54.8,178.6 L56.7,178.9 L57.8,177.4 L58.6,175.7 L60.0,174.6 L61.1,173.2 L62.1,171.7 L63.0,170.1 L63.6,168.9 L63.9,167.5 L64.1,166.1 L64.9,165.0 L65.1,163.5 L65.4,162.1 L65.4,160.6 L65.7,159.2 L66.1,157.8 L66.1,156.3 L66.1,154.8 L66.7,153.4 L67.2,152.0 L66.8,150.4 L67.2,149.0 L67.4,147.5 L68.0,145.0 L68.2,143.5 L68.9,142.1 L68.8,140.6 L68.9,139.1 L69.3,137.7 L69.0,136.1 L69.4,134.7 L69.6,133.2 L69.3,131.7 L69.9,130.3 L70.6,129.0 L70.8,127.6 L70.4,126.1 L71.4,124.8 L71.5,123.4 L72.1,125.0 L72.6,126.6 L73.6,126.0 L73.8,127.4 L74.1,128.8 L74.9,130.1 L74.9,131.5 L75.1,132.9 L75.9,131.7 L75.7,130.3 L76.2,129.1 L76.6,130.6 L76.9,132.2 L77.0,133.8 L76.8,135.4 L77.1,137.1 L77.2,138.8 L78.0,140.4 L79.9,141.6 L80.0,143.2 L80.2,144.7 L80.5,146.3 L80.4,147.8 L81.6,148.7 L82.2,150.0 L82.4,151.3 L83.0,152.5 L83.2,154.0 L84.0,155.4 L84.4,156.9 L84.4,158.5 L84.9,160.0 L85.0,161.5 L85.6,162.8 L85.5,164.3 L85.8,165.8 L85.7,167.2 L86.0,168.7 L86.2,170.1 L86.6,171.6 L87.0,173.1 L87.0,174.7 L87.3,176.2 L88.0,177.6 L89.1,178.8 L90.0,180.1 L90.7,181.8 L91.8,183.3 L93.5,184.2 L95.0,185.5"/>
<path d="M218.4,166.0 L219.1,164.5 L219.9,163.1 L220.3,161.6 L220.9,160.1 L220.7,158.5 L221.0,157.0 L221.3,155.5 L221.5,154.0 L221.4,152.4 L222.0,150.9 L222.1,149.3 L222.5,147.8 L222.8,145.9 L222.9,144.0 L222.7,142.6 L222.5,141.3 L223.1,140.0 L223.2,138.6 L223.0,137.3 L223.5,135.9 L223.2,134.6 L223.2,133.2 L223.4,131.9 L223.7,130.5 L223.4,129.0 L223.8,127.5 L224.1,126.1 L224.6,124.7 L224.5,123.2 L224.7,121.8 L225.0,120.1 L225.1,118.4 L225.5,116.8 L227.2,115.5 L227.3,117.0 L227.2,118.5 L228.0,119.9 L227.4,121.5 L228.4,122.8 L228.4,124.3 L228.5,125.7 L228.6,127.1 L228.5,128.5 L229.3,129.9 L229.6,131.2 L229.0,132.7 L229.1,134.1 L229.3,135.5 L229.6,136.9 L229.0,138.4 L229.8,139.7 L229.9,141.2 L229.8,142.6 L230.2,144.0 L230.2,145.4 L229.9,146.8 L230.8,148.1 L230.6,149.5 L231.5,150.9 L230.4,152.3 L230.8,153.7 L230.6,155.1 L230.9,156.5 L230.6,158.1 L231.4,159.4 L231.8,160.8 L232.1,162.2 L232.5,163.7 L232.7,165.1 L232.8,166.6 L232.9,168.1 L233.4,169.5 L233.7,171.0 L234.1,172.5 L234.1,174.0 L234.7,175.4 L235.0,176.8 L235.7,178.2 L236.0,179.7 L236.6,181.0 L237.6,182.4 L238.5,183.9 L240.5,185.0"/>
<path d="M218.4,179.8 L220.0,179.8 L221.5,180.4 L223.2,180.1 L224.7,179.1 L225.7,178.2 L226.5,177.2 L226.7,175.7 L227.6,174.5 L227.8,173.0 L228.1,171.6 L227.9,170.1 L228.9,168.7 L228.8,167.2 L229.1,165.8 L229.2,164.3 L229.3,162.8 L229.4,161.4 L229.1,159.9 L229.9,158.6 L229.8,157.2 L229.8,155.7 L230.1,154.3 L230.2,152.9 L230.3,151.5 L230.6,150.0 L230.4,148.5 L230.7,147.0 L230.2,145.5 L230.9,144.0 L230.9,142.5 L231.3,141.1 L231.6,139.6 L231.3,138.1 L231.3,136.7 L231.4,135.3 L231.9,134.0 L231.4,132.6 L231.7,131.2 L232.1,129.8 L231.7,128.4 L232.0,127.1 L231.6,125.7 L231.8,124.3 L232.0,122.9 L232.1,121.5 L232.3,120.2 L232.7,118.8 L233.1,117.5 L232.5,116.0 L232.6,114.6 L233.1,113.3 L232.8,111.9 L233.2,110.5 L233.4,112.2 L233.6,113.9 L234.1,115.5 L235.1,116.4 L236.0,117.4 L236.0,118.7 L236.6,120.0 L236.1,121.4 L236.8,122.7 L236.7,124.1 L236.7,125.4 L236.8,126.8 L236.8,128.1 L236.6,129.5 L236.9,130.9 L237.1,132.3 L237.0,133.7 L236.8,135.1 L237.3,136.4 L237.2,137.8 L237.1,139.2 L237.5,140.6 L237.6,142.3 L237.9,144.0 L238.4,145.6 L237.6,147.4 L238.5,149.0 L238.3,150.4 L239.8,151.4 L239.7,152.8 L239.8,154.2 L239.8,155.7 L239.7,157.1 L239.9,158.5 L240.2,159.9 L240.5,161.4 L240.3,162.8 L240.5,164.2 L240.4,165.7 L241.2,167.0 L241.4,168.4 L241.3,169.9 L242.0,171.2 L241.8,172.7 L241.9,174.1 L242.3,175.3 L242.4,176.6 L243.0,177.8 L243.4,179.1 L243.5,180.4 L244.2,181.5 L244.8,182.7 L245.4,183.9 L246.8,184.3 L248.0,185.0"/>
<path d="M396.6,175.6 L397.6,174.7 L398.6,173.7 L399.3,172.4 L399.9,171.0 L400.5,169.6 L400.5,168.1 L401.8,168.7 L401.8,167.3 L402.0,166.0 L401.6,164.6 L403.0,163.4 L402.4,161.9 L402.8,160.6 L403.0,162.1 L403.0,163.6 L403.7,165.1 L403.4,166.6 L403.7,168.1 L403.9,166.6 L403.6,165.1 L404.4,163.7 L404.8,162.3 L404.2,160.7 L404.9,159.3 L405.5,158.1 L405.7,156.8 L406.2,155.6 L406.5,154.3 L406.8,153.0 L407.5,151.6 L407.4,150.1 L408.0,148.7 L408.0,147.2 L408.6,145.8 L408.7,144.3 L408.6,143.0 L409.0,141.6 L409.6,140.4 L409.3,139.0 L410.6,138.4 L410.9,136.9 L410.9,135.5 L410.8,134.0 L411.1,132.5 L411.5,131.1 L411.6,129.6 L412.4,130.2 L412.8,128.9 L412.7,127.5 L412.9,126.1 L412.8,124.8 L413.3,123.4 L412.9,122.0 L413.0,120.7 L413.5,119.4 L413.4,118.0 L413.4,116.6 L413.4,115.2 L413.7,113.9 L414.1,115.4 L414.1,116.9 L414.6,118.3 L414.9,117.0 L414.7,115.5 L415.4,114.3 L415.6,112.9 L415.5,111.5 L416.0,110.2 L416.0,111.6 L416.4,112.9 L416.6,114.2 L416.5,115.6 L416.6,117.0 L417.1,118.3 L418.1,116.4 L418.6,118.0 L418.7,119.8 L419.1,121.4 L419.0,120.0 L420.0,118.8 L419.4,117.3 L420.0,116.0 L419.7,114.6 L420.0,113.3 L419.9,114.7 L419.6,116.1 L420.9,117.3 L420.4,118.7 L420.3,120.1 L420.5,121.5 L420.8,122.8 L420.1,124.2 L420.7,125.6 L421.3,126.9 L420.9,128.3 L421.3,126.9 L420.7,125.5 L421.6,124.2 L421.3,122.7 L421.6,121.4 L422.0,120.0 L421.9,118.6 L421.6,117.2 L422.1,115.8 L422.7,117.1 L422.0,118.6 L422.2,120.0 L422.7,121.3 L422.4,122.7 L422.6,124.1 L422.6,125.5 L423.5,126.8 L423.1,128.2 L423.1,129.6 L423.0,131.1 L423.3,132.5 L423.4,133.9 L424.5,135.2 L424.0,136.7 L424.1,138.2 L424.4,139.6 L424.0,141.4 L425.0,143.0 L425.6,144.5 L425.7,146.1 L425.9,147.7 L426.2,149.3 L426.1,150.8 L426.7,152.1 L426.4,153.6 L427.2,155.0 L427.1,156.5 L427.5,157.9 L427.5,159.3 L427.5,160.7 L427.8,162.0 L428.2,163.4 L427.5,164.8 L427.8,166.2 L428.1,167.5 L428.0,168.9 L427.9,170.3 L428.5,171.6 L428.3,173.0 L428.4,174.4 L429.1,175.7 L430.0,176.9 L430.5,178.2 L431.3,179.3 L431.9,180.6 L433.4,180.6 L434.3,181.9 L435.7,182.1 L437.3,182.6 L439.0,182.8 L440.7,183.2"/>
<path d="M396.6,181.3 L397.9,180.6 L399.3,180.0 L400.6,179.4 L401.7,178.6 L403.0,178.1 L404.1,176.7 L405.5,175.6 L406.4,174.4 L407.5,173.4 L408.7,172.5 L409.6,171.5 L410.6,170.6 L411.8,170.0 L413.0,169.3 L413.7,168.1 L415.0,167.5 L416.2,166.3 L416.9,164.8 L418.1,163.7 L419.3,164.4 L420.6,165.0 L421.4,163.8 L421.6,162.4 L421.7,163.8 L422.2,165.1 L422.1,166.5 L422.3,167.9 L422.5,169.3 L422.2,167.8 L422.7,166.4 L423.1,165.0 L423.1,163.6 L423.4,162.2 L423.7,160.8 L423.7,159.3 L424.5,158.1 L425.2,156.9 L425.6,155.5 L426.0,154.1 L426.0,152.6 L426.2,151.1 L426.4,149.7 L426.6,148.2 L426.9,146.8 L427.0,144.9 L427.2,143.0 L426.8,141.6 L427.2,140.2 L427.3,138.8 L427.1,137.4 L427.4,136.0 L427.5,134.6 L427.8,133.2 L427.7,131.8 L428.4,130.5 L427.3,129.0 L428.1,127.7 L427.8,126.3 L428.7,125.0 L429.3,123.6 L428.0,122.1 L428.8,120.8 L429.2,119.1 L429.7,117.5 L430.0,115.8 L430.2,114.4 L430.7,113.1 L430.3,111.5 L431.4,110.3 L431.5,108.9 L431.9,110.5 L432.5,112.0 L432.7,113.3 L433.0,114.7 L432.8,116.0 L433.3,117.3 L433.3,118.7 L433.6,120.0 L434.2,121.3 L433.8,122.7 L434.4,121.4 L435.0,120.2 L435.9,121.2 L436.9,122.1 L436.9,123.6 L437.5,124.9 L437.5,126.4 L437.5,127.8 L437.8,129.2 L437.7,130.7 L438.2,132.1 L438.1,133.5 L439.2,134.6 L439.4,135.9 L440.2,137.2 L439.7,138.8 L439.8,140.2 L440.2,141.6 L440.7,143.0 L440.7,144.5 L441.2,145.8 L441.4,147.3 L441.1,148.7 L441.8,150.1 L442.2,151.5 L441.9,153.0 L442.3,154.4 L441.6,155.9 L441.9,157.3 L442.7,158.6 L442.9,160.0 L442.8,161.5 L443.2,162.9 L443.2,164.3 L443.1,165.8 L443.7,167.1 L444.2,168.5 L443.8,170.0 L444.5,171.3 L444.5,172.8 L444.8,174.2 L445.0,175.6 L445.7,177.0 L446.3,178.6 L447.0,180.0 L448.4,180.8 L449.5,181.9 L450.9,181.9 L452.2,182.2 L453.2,183.2"/>
<path d="M44.8,284.0 L45.9,283.2 L47.2,282.9 L48.5,282.6 L49.7,282.0 L51.0,281.4 L51.3,280.1 L51.8,278.9 L52.0,277.6 L53.0,276.6 L53.7,275.4 L54.8,274.5 L54.9,273.0 L54.9,271.5 L55.7,270.2 L56.1,268.8 L56.5,267.4 L56.7,266.0 L56.8,264.6 L57.0,263.1 L57.5,261.8 L57.5,260.3 L58.0,258.9 L58.0,257.5 L58.4,256.1 L58.5,254.6 L59.0,253.2 L58.7,251.7 L59.0,250.3 L59.1,248.8 L59.4,247.4 L59.8,246.0 L60.4,244.7 L60.6,243.4 L60.3,242.0 L60.6,240.7 L60.9,239.4 L61.0,238.1 L61.3,236.8 L61.1,235.4 L61.0,233.9 L61.3,232.4 L61.8,231.0 L62.3,229.6 L62.1,228.1 L62.3,226.6 L62.2,225.1 L62.4,223.7 L62.5,222.2 L62.5,220.7 L63.3,219.3 L63.0,217.8 L63.2,216.5 L63.8,215.3 L64.7,214.2 L64.5,212.8 L64.2,214.2 L64.5,215.6 L64.9,217.0 L64.7,218.4 L64.4,219.8 L64.7,221.1 L64.6,222.5 L65.0,223.9 L65.1,225.3 L65.2,226.9 L65.7,228.4 L65.7,230.0 L66.1,231.6 L66.0,233.2 L67.0,234.7 L66.9,236.3 L67.1,237.9 L68.0,237.2 L68.0,238.5 L68.3,239.8 L68.3,241.1 L68.1,242.4 L67.9,243.7 L68.5,245.0 L68.4,246.4 L68.5,247.8 L69.1,249.2 L68.2,250.6 L68.7,251.9 L68.8,253.3 L69.1,254.7 L68.9,256.1 L68.9,257.5 L69.3,258.9 L69.2,260.4 L69.2,261.8 L69.5,263.3 L69.5,264.7 L70.0,266.1 L69.9,267.6 L69.9,269.2 L70.8,270.6 L71.5,272.0 L71.5,273.6 L71.8,275.1 L72.4,276.3 L72.8,277.5 L73.0,278.9 L73.2,280.2 L73.6,281.4 L75.0,281.7 L76.1,282.6 L77.4,283.3 L79.2,284.0 L81.2,284.0"/>
<path d="M46.7,284.0 L48.1,283.9 L49.5,283.4 L50.8,283.2 L52.2,282.8 L53.6,282.6 L55.1,282.0 L56.6,281.6 L58.0,280.8 L59.6,281.1 L61.1,281.4 L62.3,279.9 L64.2,279.5 L65.1,277.9 L66.1,276.4 L66.2,274.8 L66.9,273.3 L66.9,271.6 L67.4,270.1 L67.9,268.8 L68.9,267.8 L68.9,266.3 L68.7,264.8 L68.8,263.3 L68.8,261.9 L68.6,260.4 L68.8,258.9 L69.4,257.5 L69.5,256.1 L69.3,254.7 L69.0,253.3 L69.1,251.9 L69.7,250.6 L69.3,249.2 L69.5,247.8 L69.7,246.4 L69.6,245.0 L70.0,243.6 L70.2,242.3 L70.0,240.9 L69.8,239.5 L69.9,238.1 L70.3,236.8 L69.9,235.4 L70.4,233.9 L70.1,232.4 L70.4,230.8 L70.5,229.3 L70.5,227.8 L70.7,226.3 L70.8,224.8 L70.7,223.3 L71.2,221.8 L71.5,220.3 L71.2,218.9 L72.1,217.7 L72.0,216.3 L71.6,214.9 L72.4,213.6 L72.4,212.3 L71.8,210.9 L72.4,209.6 L72.1,211.0 L72.5,212.4 L72.3,213.8 L73.4,215.0 L73.1,216.5 L73.4,217.8 L73.7,216.4 L73.9,215.0 L74.1,213.6 L74.3,212.2 L74.2,213.6 L75.1,214.8 L75.2,216.2 L75.5,217.5 L75.4,218.9 L75.5,220.3 L75.8,221.7 L75.6,223.1 L75.7,224.5 L75.9,225.9 L76.2,227.3 L76.2,228.7 L75.9,230.1 L76.1,231.5 L76.4,232.9 L76.5,234.4 L76.8,235.8 L76.5,237.3 L77.2,238.7 L77.1,240.2 L77.4,241.6 L76.8,243.3 L76.9,245.0 L77.2,246.5 L77.0,248.0 L77.7,249.4 L77.4,250.9 L77.8,252.3 L78.0,253.8 L78.7,255.2 L78.3,256.8 L79.0,258.3 L78.7,259.9 L79.3,261.3 L79.7,262.7 L79.7,264.2 L79.7,265.6 L80.1,267.0 L80.1,268.5 L80.5,269.9 L80.5,271.3 L80.7,272.6 L81.3,273.8 L81.6,275.1 L82.7,276.1 L82.4,277.6 L82.8,279.0 L83.7,280.1 L84.3,281.4 L85.8,281.6 L86.8,282.6 L88.3,283.1 L89.7,283.7 L91.2,284.0"/>
<path d="M224.7,283.0 L226.1,282.4 L227.0,281.2 L228.4,280.6 L229.6,279.6 L230.0,278.1 L230.9,276.9 L232.3,275.8 L232.5,273.9 L233.4,272.5 L233.8,271.2 L233.8,269.7 L233.9,268.3 L234.7,267.0 L234.7,265.6 L235.2,264.2 L235.5,262.9 L235.6,261.4 L235.4,260.0 L235.3,258.5 L235.8,257.2 L236.0,255.8 L236.2,254.4 L236.6,253.0 L236.9,251.6 L237.0,250.2 L237.0,248.7 L237.3,247.3 L237.4,245.9 L237.7,244.4 L237.8,243.0 L238.3,241.6 L238.6,240.2 L238.4,238.7 L238.4,237.2 L239.1,235.9 L239.7,234.4 L239.5,232.9 L239.9,231.4 L239.4,229.8 L240.0,228.3 L240.4,226.7 L241.0,225.2 L241.9,225.8 L242.9,224.0 L243.1,225.4 L243.7,226.7 L243.6,228.1 L243.5,229.5 L243.9,230.9 L243.8,232.5 L243.9,234.1 L244.7,235.5 L244.7,237.1 L246.0,238.4 L246.7,239.9 L246.5,241.5 L246.9,243.0 L246.7,244.4 L247.0,245.8 L247.5,247.1 L247.0,248.6 L247.1,250.0 L247.2,251.3 L247.6,252.7 L247.4,254.1 L247.6,255.5 L247.6,256.9 L248.1,258.3 L248.6,259.6 L248.2,261.1 L248.3,262.5 L248.6,263.9 L248.5,265.3 L249.1,266.7 L249.1,268.1 L249.4,269.6 L249.8,271.0 L249.9,272.5 L249.9,274.1 L250.7,275.4 L251.0,276.9 L251.1,278.4 L251.9,279.6 L252.9,280.6 L254.0,282.0 L255.4,283.0"/>
<path d="M230.3,283.0 L231.9,282.9 L233.5,282.9 L235.0,282.1 L236.6,281.9 L237.8,281.4 L239.0,280.8 L240.3,280.6 L241.7,279.4 L242.9,278.1 L243.7,276.5 L243.8,274.8 L244.1,273.1 L244.4,271.7 L244.5,270.2 L244.8,268.7 L244.6,267.2 L245.5,265.8 L245.4,264.3 L245.4,262.9 L245.4,261.4 L245.6,260.0 L245.8,258.6 L246.4,257.3 L246.6,255.9 L246.1,254.4 L246.6,253.0 L246.9,251.6 L247.0,250.2 L246.7,248.7 L246.5,247.3 L246.8,245.8 L246.9,244.4 L247.2,243.0 L247.3,241.7 L247.2,240.3 L246.8,238.9 L247.4,237.6 L247.0,236.3 L247.7,234.9 L247.2,233.6 L247.4,232.2 L247.6,230.9 L247.5,229.5 L247.6,228.1 L248.2,226.8 L248.2,225.4 L248.2,224.0 L248.2,222.7 L247.8,221.3 L248.1,219.9 L248.2,218.5 L248.2,217.2 L248.5,215.8 L248.8,214.4 L248.7,213.0 L248.9,211.6 L249.0,210.2 L249.5,208.9 L250.6,210.3 L250.6,212.0 L251.9,212.7 L251.9,214.0 L251.8,215.4 L252.2,216.7 L252.7,218.0 L253.3,219.3 L252.6,220.7 L252.4,222.0 L252.9,223.3 L252.9,224.7 L252.9,226.1 L252.9,227.6 L253.1,229.0 L253.6,230.4 L253.4,231.8 L253.6,233.2 L253.9,234.6 L254.4,236.0 L254.2,237.4 L254.6,238.8 L254.4,240.2 L254.3,241.6 L254.6,243.0 L255.0,244.4 L255.4,245.7 L254.6,247.2 L255.0,248.6 L254.8,250.0 L255.7,251.3 L255.2,252.7 L255.0,254.2 L255.7,255.5 L255.3,257.0 L256.1,258.3 L256.2,259.7 L256.5,261.1 L256.3,262.5 L256.5,263.9 L256.9,265.3 L257.5,266.7 L257.3,268.1 L257.6,269.6 L258.5,271.0 L258.9,272.5 L259.1,273.8 L259.6,275.0 L259.6,276.4 L260.4,277.5 L260.8,278.9 L261.8,280.0 L262.3,281.3 L263.8,282.2 L265.4,283.0"/>
<path d="M396.6,279.6 L398.5,279.1 L399.9,277.8 L400.4,276.3 L401.3,274.9 L401.8,273.4 L402.7,272.1 L403.4,270.6 L403.7,269.0 L404.9,269.0 L405.4,267.7 L405.2,266.2 L405.5,264.8 L406.2,263.5 L406.6,262.2 L406.8,260.8 L407.7,259.4 L407.1,257.8 L407.9,256.4 L408.0,254.8 L408.1,253.3 L408.6,251.8 L409.9,250.8 L410.1,249.2 L410.7,247.8 L410.9,246.3 L411.4,244.8 L411.8,243.3 L412.4,242.0 L412.7,240.6 L412.6,239.2 L413.1,237.9 L413.0,236.5 L413.2,235.1 L413.7,233.8 L413.7,232.4 L413.8,231.0 L414.2,229.6 L414.8,228.3 L414.6,226.8 L414.7,225.4 L415.2,224.0 L415.1,222.6 L415.7,221.2 L415.6,219.8 L416.8,219.8 L416.7,218.4 L417.5,217.1 L417.4,215.6 L417.6,214.2 L418.1,212.9 L419.0,212.9 L419.7,211.3 L419.2,209.5 L419.6,207.9 L419.2,209.2 L419.6,210.5 L419.4,211.8 L420.2,213.1 L419.6,214.5 L419.6,215.8 L420.1,217.1 L420.2,218.4 L419.6,219.7 L420.3,221.0 L420.4,222.3 L420.4,220.9 L420.5,219.6 L420.9,218.3 L420.9,216.9 L421.0,215.6 L421.5,214.3 L421.2,212.9 L421.4,214.2 L421.3,215.6 L421.2,217.0 L422.0,218.2 L421.6,219.6 L421.5,221.0 L422.1,222.3 L422.8,223.9 L423.1,225.6 L423.1,227.3 L423.6,228.8 L424.0,230.3 L423.6,231.9 L424.4,233.3 L424.1,234.9 L424.1,236.3 L424.0,237.8 L425.0,239.1 L424.7,240.6 L424.8,242.0 L425.4,243.4 L424.8,244.9 L425.3,246.3 L425.3,247.7 L425.4,249.1 L425.3,250.6 L425.6,252.0 L425.8,253.4 L425.9,254.8 L426.2,256.2 L426.1,257.6 L426.6,259.0 L426.4,260.4 L427.1,261.7 L426.9,263.2 L426.9,264.6 L426.6,266.1 L427.3,267.4 L427.8,268.8 L427.6,270.3 L428.2,271.6 L428.5,273.0 L428.5,274.5 L428.5,275.9 L429.0,277.5 L429.8,278.9 L430.6,280.3 L431.9,281.0 L433.2,281.8 L435.5,281.5 L437.0,280.1 L438.5,281.4 L440.5,282.0"/>
<path d="M396.6,280.3 L397.9,279.8 L399.1,279.5 L400.5,279.6 L401.9,279.3 L403.1,278.5 L404.3,277.8 L405.8,277.2 L407.4,277.1 L407.5,275.6 L408.3,274.5 L409.3,273.4 L410.7,272.3 L410.7,270.3 L411.8,269.0 L412.7,267.4 L413.7,265.8 L414.1,264.4 L414.4,263.0 L414.8,261.6 L414.9,260.2 L415.6,258.9 L416.8,257.1 L417.5,255.9 L418.7,255.2 L419.8,253.9 L419.8,252.2 L420.6,250.8 L421.3,249.6 L421.1,248.1 L422.0,247.0 L422.5,245.8 L423.5,244.2 L424.4,242.6 L425.4,242.0 L425.8,240.7 L425.3,239.2 L425.9,237.9 L426.0,236.5 L425.8,235.1 L426.2,233.8 L426.2,232.4 L426.4,230.9 L426.9,229.4 L427.5,228.0 L429.4,228.0 L429.7,226.5 L429.3,224.9 L430.3,223.6 L430.8,222.0 L431.3,220.4 L432.0,221.8 L432.5,223.2 L432.5,224.8 L432.8,226.3 L432.6,227.8 L433.1,229.2 L432.8,230.7 L433.6,232.1 L433.4,233.6 L433.9,235.0 L433.3,236.4 L433.8,237.8 L433.8,239.2 L434.5,240.6 L434.4,242.0 L434.6,243.6 L435.1,245.0 L435.4,246.5 L435.9,248.0 L436.3,249.5 L436.3,251.0 L437.1,252.4 L437.5,253.8 L438.0,255.3 L437.6,256.9 L438.2,258.3 L438.8,259.5 L439.2,260.7 L439.5,262.0 L439.8,263.3 L440.0,264.6 L440.6,265.9 L440.6,267.3 L440.9,268.7 L441.2,270.1 L441.3,271.5 L442.0,272.7 L442.2,274.0 L442.8,275.2 L443.2,276.5 L444.1,278.1 L445.0,279.6 L446.0,280.5 L447.1,281.3 L448.2,282.0"/>
</g>
<text x="121.9" y="25.5" font-family='"Liberation Mono", monospace' font-size="12.6" font-weight="bold" fill="#101010" stroke="#101010" stroke-width="0.35" letter-spacing="0.65">A549</text>
<text x="319.9" y="23.5" font-family='"Liberation Mono", monospace' font-size="12.8" font-weight="bold" fill="#101010" stroke="#101010" stroke-width="0.35">1</text>
<text x="497.8" y="23.9" font-family='"Liberation Sans", sans-serif' font-size="11.6" font-weight="bold" fill="#101010" stroke="#101010" stroke-width="0.35">2</text>
<text x="140.0" y="125.0" font-family='"Liberation Sans", sans-serif' font-size="11.6" font-weight="bold" fill="#101010" stroke="#101010" stroke-width="0.35">3</text>
<text x="322.5" y="122.0" font-family='"Liberation Sans", sans-serif' font-size="11.0" font-weight="bold" fill="#101010" stroke="#101010" stroke-width="0.35">4</text>
<text x="499.0" y="123.9" font-family='"Liberation Sans", sans-serif' font-size="11.6" font-weight="bold" fill="#101010" stroke="#101010" stroke-width="0.35">5</text>
<text x="143.8" y="222.2" font-family='"Liberation Sans", sans-serif' font-size="11.6" font-weight="bold" fill="#101010" stroke="#101010" stroke-width="0.35">6</text>
<text x="325.0" y="222.4" font-family='"Liberation Sans", sans-serif' font-size="11.8" font-weight="bold" fill="#101010" stroke="#101010" stroke-width="0.35">7</text>
<text x="503.0" y="222.4" font-family='"Liberation Sans", sans-serif' font-size="11.6" font-weight="bold" fill="#101010" stroke="#101010" stroke-width="0.35">8</text>
<text transform="translate(11.6,167.2) rotate(-90.4)" font-family='"Liberation Sans", sans-serif' font-size="14" font-weight="bold" fill="#101010" stroke="#101010" stroke-width="0.3" textLength="48.6" lengthAdjust="spacingAndGlyphs">Counts</text>
<text x="246.3" y="322.5" font-family='"Liberation Sans", sans-serif' font-size="14.2" font-weight="bold" fill="#101010" stroke="#101010" stroke-width="0.3" textLength="75.3" lengthAdjust="spacingAndGlyphs">FL1-Height</text>
</svg>
</body></html>
